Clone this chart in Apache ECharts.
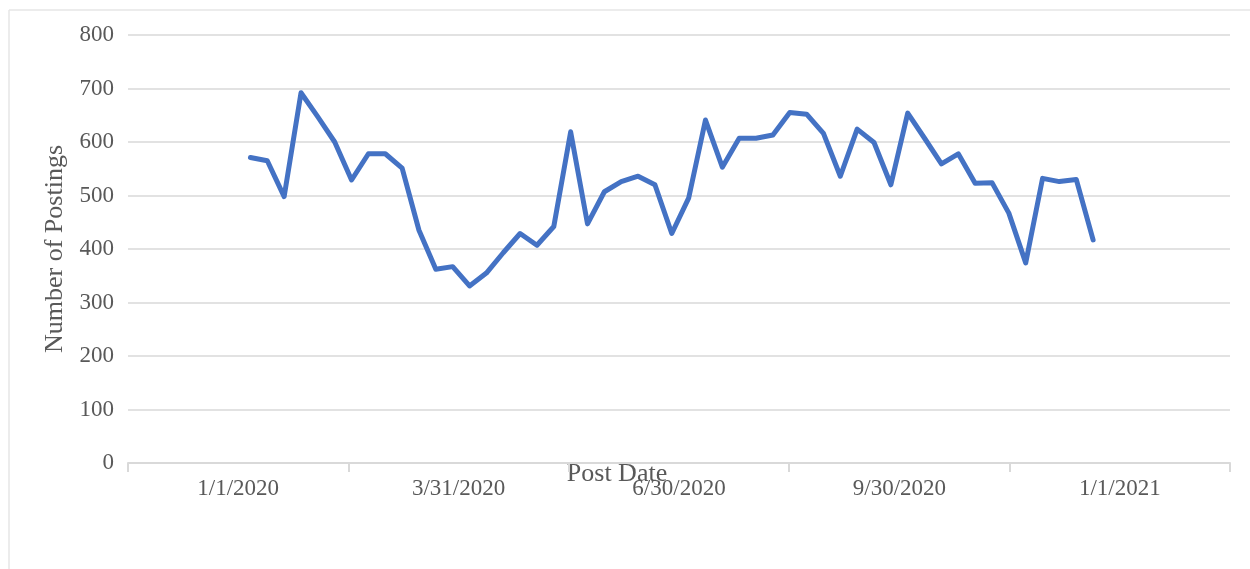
<!DOCTYPE html>
<html>
<head>
<meta charset="utf-8">
<title>Number of Postings</title>
<script src="https://cdn.jsdelivr.net/npm/echarts@6/dist/echarts.min.js"></script>
<style>
  html, body { margin: 0; padding: 0; background: #fff; }
  #chart { width: 1250px; height: 569px; }
</style>
</head>
<body>
<div id="chart"></div>
<script>
// x axis labels (one per band)
const periodLabels = ['1/1/2020', '3/31/2020', '6/30/2020', '9/30/2020', '1/1/2021']

// weekly post dates
const postDates = [
  '2020-01-06', '2020-01-13', '2020-01-20', '2020-01-27',
  '2020-02-03', '2020-02-10', '2020-02-17', '2020-02-24',
  '2020-03-02', '2020-03-09', '2020-03-16', '2020-03-23', '2020-03-30',
  '2020-04-06', '2020-04-13', '2020-04-20', '2020-04-27',
  '2020-05-04', '2020-05-11', '2020-05-18', '2020-05-25',
  '2020-06-01', '2020-06-08', '2020-06-15', '2020-06-22', '2020-06-29',
  '2020-07-06', '2020-07-13', '2020-07-20', '2020-07-27',
  '2020-08-03', '2020-08-10', '2020-08-17', '2020-08-24', '2020-08-31',
  '2020-09-07', '2020-09-14', '2020-09-21', '2020-09-28',
  '2020-10-05', '2020-10-12', '2020-10-19', '2020-10-26',
  '2020-11-02', '2020-11-09', '2020-11-16', '2020-11-23', '2020-11-30',
  '2020-12-07', '2020-12-14', '2020-12-21'
]

// number of postings per week
const postings = [
  571, 565, 498, 692, 647, 600, 529, 578, 578, 551, 435, 362, 367,
  331, 355, 393, 429, 407, 442, 619, 447, 507, 526, 536, 520, 429,
  495, 641, 553, 607, 607, 613, 655, 652, 616, 536, 624, 599, 520,
  654, 607, 559, 578, 523, 524, 467, 374, 532, 526, 530, 417
]

const yTicks = [0, 100, 200, 300, 400, 500, 600, 700, 800]

const font = 'Liberation Serif'
const textColor = '#595959'
const gridColor = '#d9d9d9'

// time range so that 1/1/2020 and 1/1/2021 sit at the centre of the first and last band
const timeMin = new Date(2019, 10, 16, 3, 30).getTime()
const timeMax = new Date(2021, 1, 15, 20, 30).getTime()

let option = {
  animation: false,
  grid: {
    left: 128,
    right: 20,
    top: 35,
    bottom: 106
  },
  graphic: [
    {
      type: 'line',
      shape: { x1: 9, y1: 10, x2: 1250, y2: 10 },
      style: { stroke: '#e6e6e6', lineWidth: 1.5 }
    },
    {
      type: 'line',
      shape: { x1: 9, y1: 10, x2: 9, y2: 569 },
      style: { stroke: '#e6e6e6', lineWidth: 1.5 }
    }
  ],
  xAxis: [
    {
      type: 'category',
      data: periodLabels,
      boundaryGap: true,
      name: 'Post Date',
      nameLocation: 'middle',
      nameGap: -2,
      nameMoveOverlap: false,
      nameTextStyle: {
        fontFamily: font,
        fontSize: 26,
        color: textColor,
        padding: [0, 124, 0, 0]
      },
      axisLine: {
        lineStyle: { color: gridColor, width: 2 }
      },
      axisTick: {
        show: true,
        length: 9,
        lineStyle: { color: gridColor, width: 2 }
      },
      axisLabel: {
        fontFamily: font,
        fontSize: 23,
        color: textColor,
        margin: 14
      },
      splitLine: { show: false }
    },
    {
      type: 'time',
      min: timeMin,
      max: timeMax,
      show: false
    }
  ],
  yAxis: {
    type: 'value',
    min: yTicks[0],
    max: yTicks[yTicks.length - 1],
    interval: 100,
    name: 'Number of Postings',
    nameLocation: 'middle',
    nameGap: 60,
    nameTextStyle: {
      fontFamily: font,
      fontSize: 26,
      color: textColor
    },
    axisLine: { show: false },
    axisTick: { show: false },
    axisLabel: {
      fontFamily: font,
      fontSize: 23,
      color: textColor,
      margin: 14
    },
    splitLine: {
      lineStyle: { color: gridColor, width: 1.5 }
    }
  },
  series: [
    {
      name: 'Number of Postings',
      type: 'line',
      xAxisIndex: 1,
      data: postDates.map((d, i) => [d, postings[i]]),
      showSymbol: false,
      smooth: false,
      lineStyle: {
        color: '#4472C4',
        width: 5,
        join: 'round',
        cap: 'round'
      },
      itemStyle: { color: '#4472C4' }
    }
  ]
}

var myChart = echarts.init(document.getElementById('chart'))
myChart.setOption(option)
window.addEventListener('resize', () => {
  myChart.resize()
})
</script>
</body>
</html>
